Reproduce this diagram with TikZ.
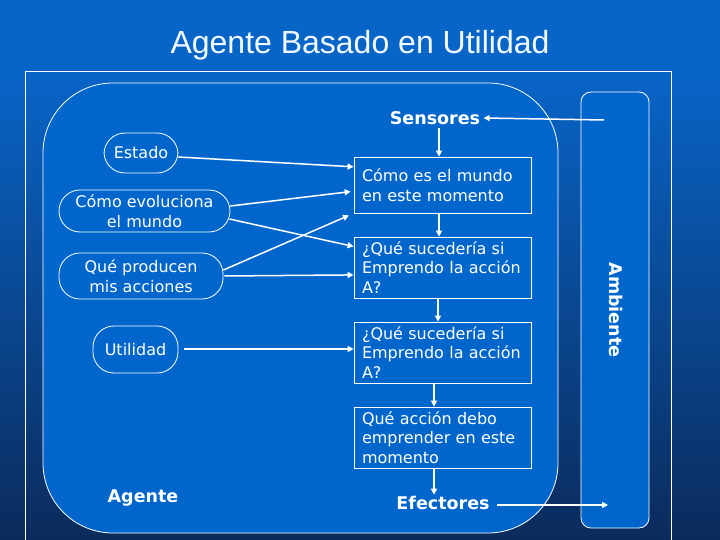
\documentclass[tikz,border=0pt]{standalone}
\usepackage{fontspec}
\setmainfont{DejaVu Sans}
\newfontfamily\titlefont{Liberation Sans}
\usetikzlibrary{arrows.meta,calc}

\definecolor{agentblue}{HTML}{0066CC}
\definecolor{topblue}{HTML}{0865C8}
\definecolor{midblue}{HTML}{0A4C9E}
\definecolor{darkblue}{HTML}{0B2B5C}
\definecolor{titlewhite}{HTML}{F2F8FF}

\begin{document}
\begin{tikzpicture}[x=1pt,y=-1pt,
  every node/.style={text=white},
  lbl/.style={font=\fontsize{16}{19.5}\selectfont},
  oval/.style={draw=white, line width=0.8pt, rounded corners=21pt, lbl, align=center, inner sep=0pt},
  infobox/.style={draw=white, line width=0.8pt, lbl, align=left, text width=161pt, inner xsep=8pt, inner ysep=0pt, minimum width=177pt},
  big/.style={font=\fontsize{17.5}{21}\selectfont\bfseries},
  conn/.style={white, line width=1.5pt, -{Triangle[length=6pt,width=6pt]}},
  frame/.style={draw=white, line width=0.8pt}
]
\useasboundingbox (0,0) rectangle (720,540);
\fill[topblue] (0,0) rectangle (720,70);
\shade[top color=topblue, middle color=midblue, bottom color=darkblue] (0,69.5) rectangle (720,540);

\node[font=\titlefont\fontsize{32}{36}\selectfont, text=titlewhite, anchor=base] (title) at (360,54) {Agente Basado en Utilidad};

% outer frame
\draw[frame] (25,560) -- (25,71) -- (671,71) -- (671,560);
% agent body
\draw[frame, fill=agentblue, rounded corners=70pt] (43,83) rectangle (558,533);
% environment
\draw[frame, fill=agentblue, rounded corners=10pt] (581,92) rectangle (649,528);

% boxes
\node[infobox, minimum height=56pt] (box1) at (442.5,185) {Cómo es el mundo\\en este momento};
\node[infobox, minimum height=61pt] (box2) at (442.5,267.5) {¿Qué sucedería si\\Emprendo la acción\\A?};
\node[infobox, minimum height=61pt] (box3) at (442.5,352.5) {¿Qué sucedería si\\Emprendo la acción\\A?};
\node[infobox, minimum height=61pt] (box4) at (442.5,437.5) {Qué acción debo\\emprender en este\\momento};

% ovals
\node[oval, minimum width=74pt, minimum height=40pt] (estado) at (141,153) {Estado};
\node[oval, minimum width=171pt, minimum height=42pt] (evol) at (144.5,211) {Cómo evoluciona\\el mundo};
\node[oval, minimum width=164pt, minimum height=46pt] (prod) at (141,276) {Qué producen\\mis acciones};
\node[oval, minimum width=85pt, minimum height=47pt] (util) at (135.5,349.5) {Utilidad};

% labels
\node[big] (sens) at (435,118) {Sensores};
\node[big] (agente) at (143,498) {Agente};
\node[big] (efec) at (443,503) {Efectores};
\node[big, rotate=-90] (amb) at (616,310) {Ambiente};

\coordinate (sensin) at (604,120);
\coordinate (efecout) at (608,505);

% connectors
\draw[conn] (sensin) -- (sens.east);
\draw[conn] (sens.south -| 439,0) -- ($(box1.north)+(-3.5,0)$);
\draw[conn] ($(box1.south)+(-3.5,0)$) -- ($(box2.north)+(-3.5,0)$);
\draw[conn] ($(box2.south)+(-4.5,0)$) -- ($(box3.north)+(-4.5,0)$);
\draw[conn] ($(box3.south)+(-8.5,0)$) -- ($(box4.north)+(-8.5,0)$);
\draw[conn] ($(box4.south)+(-8.5,0)$) -- ($(efec.north)+(-9,2)$);
\draw[conn] ($(efec.east)+(4,2)$) -- (efecout);

\draw[conn] ($(estado.east)+(0,4)$) -- ($(box1.north west)!0.18!(box1.south west)$);
\draw[conn, shorten >=3pt] ($(evol.east)+(0,-5)$) -- ($(box1.north west)!0.61!(box1.south west)$);
\draw[conn] ($(evol.east)+(-1,8)$) -- ($(box2.north west)!0.16!(box2.south west)$);
\draw[conn, shorten >=5pt] ($(prod.east)+(0,-6)$) -- (box1.south west);
\draw[conn] ($(prod.east)+(1,0)$) -- ($(box2.north west)!0.62!(box2.south west)$);
\draw[conn, shorten <=6pt] (util.east |- 0,349) -- (box3.west |- 0,349);
\end{tikzpicture}
\end{document}
